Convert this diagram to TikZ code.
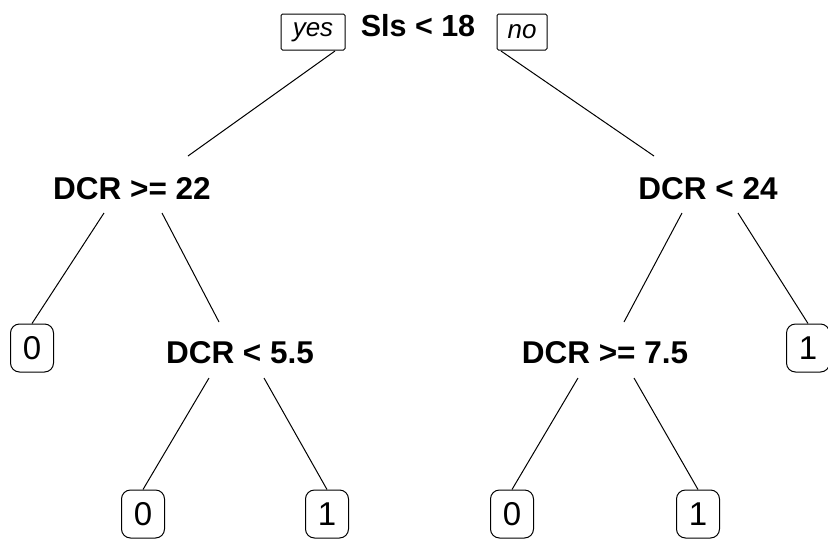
\documentclass[tikz,border=0pt]{standalone}
\usepackage{fontspec}
\setmainfont{Liberation Sans}
\begin{document}
\begin{tikzpicture}[x=1pt,y=-1pt,
  split/.style={font=\fontsize{31.5}{31.5}\selectfont\bfseries, inner sep=0pt, anchor=center},
  leaf/.style={draw, line width=1pt, rounded corners=9pt, minimum width=43pt, minimum height=48pt, inner sep=0pt, font=\fontsize{33}{33}\selectfont},
  yn/.style={draw, line width=1pt, rounded corners=1.5pt, minimum height=36pt, inner sep=3pt, font=\fontsize{26}{26}\selectfont\itshape},
  edge/.style={line width=1pt}]
\useasboundingbox (0,0) rectangle (828,539);
% split nodes
\node[split, font=\fontsize{30.5}{30.5}\selectfont\bfseries] (s1) at (418,26) {Sls < 18};
\node[yn, minimum width=64pt] (yes) at (313,32) {yes};
\node[yn, minimum width=50pt] (no) at (522,32) {no};
\node[split] (s2) at (132,189) {DCR >= 22};
\node[split] (s3) at (708,189) {DCR < 24};
\node[split] (s4) at (240,353) {DCR < 5.5};
\node[split] (s5) at (605,353) {DCR >= 7.5};
% leaves
\node[leaf] (l1) at (32,348) {0};
\node[leaf] (l2) at (808,348) {1};
\node[leaf] (l3) at (143,514) {0};
\node[leaf] (l4) at (327,514) {1};
\node[leaf] (l5) at (512,514) {0};
\node[leaf] (l6) at (698,514) {1};
% edge end coordinates
\coordinate (yesE) at (335,51);
\coordinate (noE) at (501,51);
\coordinate (s2T) at (188,156);
\coordinate (s3T) at (654,156);
\coordinate (s2L) at (104,213);
\coordinate (s2R) at (162,213);
\coordinate (s3L) at (682,213);
\coordinate (s3R) at (738,213);
\coordinate (s4T) at (219,322);
\coordinate (s5T) at (624,322);
\coordinate (s4L) at (209,378);
\coordinate (s4R) at (264,378);
\coordinate (s5L) at (578,378);
\coordinate (s5R) at (634,378);
% edges
\draw[edge] (yesE) -- (s2T);
\draw[edge] (noE) -- (s3T);
\draw[edge] (s2L) -- (l1.north);
\draw[edge] (s2R) -- (s4T);
\draw[edge] (s3L) -- (s5T);
\draw[edge] (s3R) -- (l2.north);
\draw[edge] (s4L) -- (l3.north);
\draw[edge] (s4R) -- (l4.north);
\draw[edge] (s5L) -- (l5.north);
\draw[edge] (s5R) -- (l6.north);
\end{tikzpicture}
\end{document}
